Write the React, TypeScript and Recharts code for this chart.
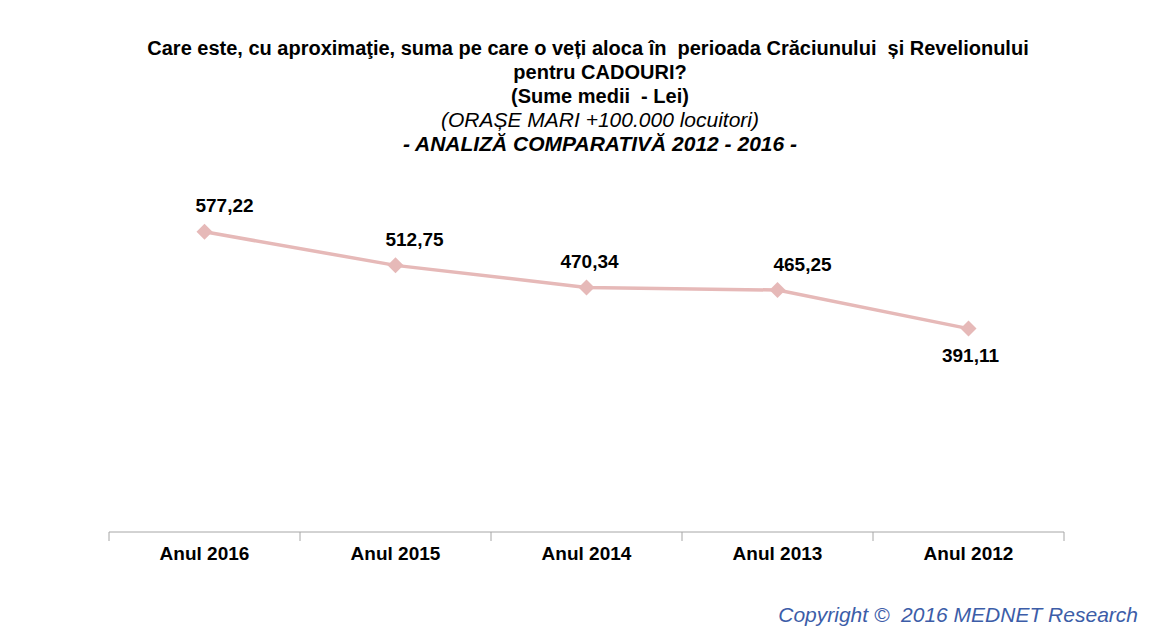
import React from "react";
import { LineChart, Line, XAxis, YAxis, LabelList } from "recharts";

const categories = ["Anul 2016", "Anul 2015", "Anul 2014", "Anul 2013", "Anul 2012"];
const values = [577.22, 512.75, 470.34, 465.25, 391.11];
const valueLabels = ["577,22", "512,75", "470,34", "465,25", "391,11"];

const titleLines = [
  "Care este, cu aproximaţie, suma pe care o veți aloca în  perioada Crăciunului  și Revelionului",
  "pentru CADOURI?",
  "(Sume medii  - Lei)",
];
const subtitle = "(ORAȘE MARI +100.000 locuitori)";
const subtitle2 = "- ANALIZĂ COMPARATIVĂ 2012 - 2016 -";
const copyright = "Copyright ©  2016 MEDNET Research";

const data = categories.map((c, i) => ({ name: c, value: values[i], label: valueLabels[i] }));

const LINE_COLOR = "#E6B9B8";
const AXIS_COLOR = "#A6A6A6";
const FONT = "'Liberation Sans', Arial, sans-serif";
const labelDx = [20, 19, 3, 25, 2];

const CHART_W = 1154;
const CHART_H = 635;
const MARGIN = { top: 168, right: 90, bottom: 73, left: 109 };
const BAND = (CHART_W - MARGIN.left - MARGIN.right) / categories.length;
const TICK_SIZE = 6;
const TICK_MARGIN = 9;

const Diamond = (props: any) => {
  const { cx, cy } = props;
  if (cx == null || cy == null) return null;
  const r = 8;
  return (
    <path
      d={`M${cx},${cy - r} L${cx + r},${cy} L${cx},${cy + r} L${cx - r},${cy} Z`}
      fill={LINE_COLOR}
      stroke="none"
    />
  );
};

const ValueLabel = (props: any) => {
  const { x, y, index, value } = props;
  const below = index === data.length - 1;
  return (
    <text
      x={x + (labelDx[index] || 0)}
      y={below ? y + 27 : y - 26}
      textAnchor="middle"
      dominantBaseline="central"
      fontFamily={FONT}
      fontWeight="bold"
      fontSize={19}
      fill="#000"
    >
      {value}
    </text>
  );
};

const CatTick = (props: any) => {
  const { x, y, payload, index } = props;
  const axisY = y - TICK_SIZE - TICK_MARGIN;
  const left = x - BAND / 2;
  const right = x + BAND / 2;
  return (
    <g>
      <line x1={left} y1={axisY} x2={left} y2={axisY + 9} stroke={AXIS_COLOR} />
      {index === categories.length - 1 && (
        <line x1={right} y1={axisY} x2={right} y2={axisY + 9} stroke={AXIS_COLOR} />
      )}
      <text
        x={x}
        y={y}
        dy="0.71em"
        textAnchor="middle"
        fontFamily={FONT}
        fontWeight="bold"
        fontSize={19}
        fill="#000"
      >
        {payload.value}
      </text>
    </g>
  );
};

export default function App() {
  return (
    <div style={{ position: "absolute", left: 0, top: 0, width: CHART_W, height: CHART_H, background: "#fff" }}>
      <div
        style={{
          position: "absolute",
          left: 0,
          top: 36,
          width: 1200,
          textAlign: "center",
          fontFamily: FONT,
          lineHeight: "24px",
          color: "#000",
        }}
      >
        {titleLines.map((t, i) => (
          <div
            key={i}
            style={{ fontWeight: "bold", fontSize: 20, whiteSpace: "pre", paddingRight: i === 0 ? 24 : 0 }}
          >
            {t}
          </div>
        ))}
        <div style={{ fontStyle: "italic", fontSize: 21, whiteSpace: "pre" }}>{subtitle}</div>
        <div style={{ fontStyle: "italic", fontWeight: "bold", fontSize: 21, whiteSpace: "pre" }}>{subtitle2}</div>
      </div>
      <LineChart width={CHART_W} height={CHART_H} data={data} margin={MARGIN}>
        <XAxis
          dataKey="name"
          scale="band"
          height={30}
          axisLine={{ stroke: AXIS_COLOR }}
          tickLine={false}
          tickSize={TICK_SIZE}
          tickMargin={TICK_MARGIN}
          tick={<CatTick />}
          interval={0}
        />
        <YAxis hide domain={[0, 700]} />
        <Line
          type="linear"
          dataKey="value"
          stroke={LINE_COLOR}
          strokeWidth={3.5}
          dot={<Diamond />}
          activeDot={false}
          isAnimationActive={false}
        >
          <LabelList dataKey="label" content={<ValueLabel />} />
        </Line>
      </LineChart>
      <div
        style={{
          position: "absolute",
          right: 16,
          top: 603,
          fontFamily: FONT,
          fontStyle: "italic",
          fontSize: 21,
          color: "#3C5DA8",
          whiteSpace: "pre",
        }}
      >
        {copyright}
      </div>
    </div>
  );
}
